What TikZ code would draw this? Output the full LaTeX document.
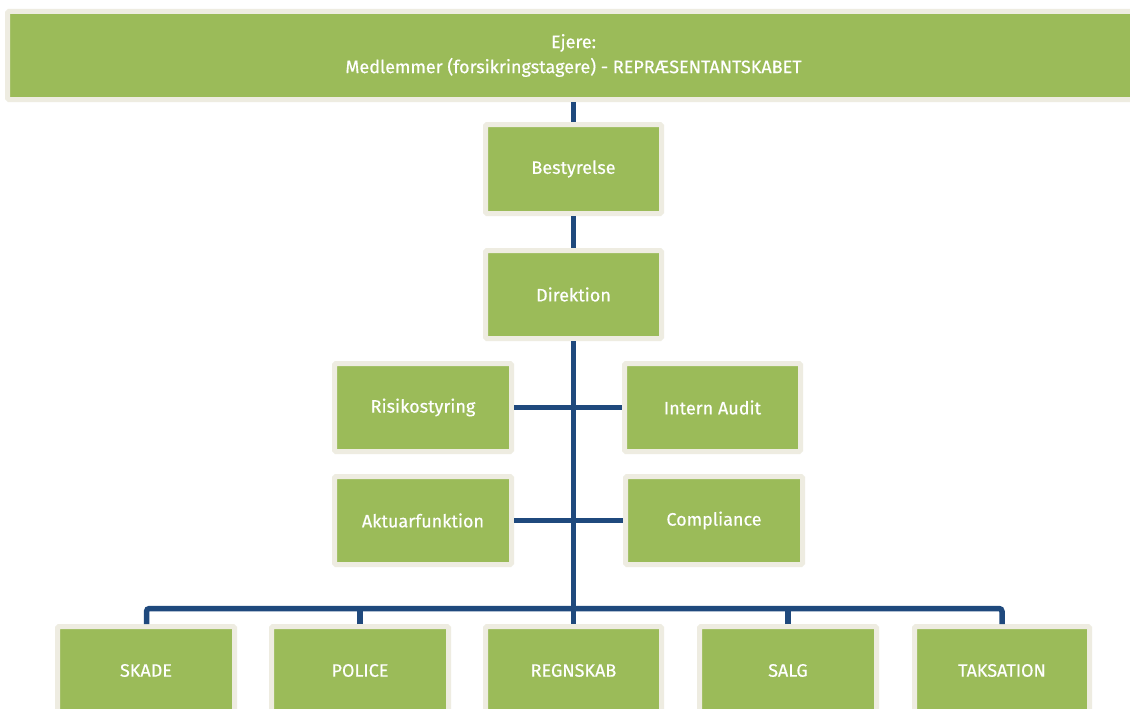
\documentclass[tikz,border=0pt]{standalone}
\usepackage{fontspec}
\setmainfont{Fira Sans}[FakeBold=0.4,AutoFakeBold=0.4]
\definecolor{boxgreen}{HTML}{9BBB59}
\definecolor{boxrim}{HTML}{EEECE1}
\definecolor{linkblue}{HTML}{1F497D}
\begin{document}
\begin{tikzpicture}[x=1pt,y=-1pt,
  orgbox/.style={rectangle, rounded corners=1.5pt, fill=boxgreen, draw=boxrim, line width=5pt,
    minimum width=176pt, minimum height=88pt, inner sep=0pt, text=white, align=center,
    font=\fontsize{18}{25}\selectfont\bfseries},
  link/.style={draw=linkblue, line width=5.5pt}]
\clip (0,0) rectangle (1130,709);
\fill[white] (0,0) rectangle (1130,709);
\node[orgbox, minimum width=1132pt] (top) at (573.5,55.5) {Ejere:\\Medlemmer (forsikringstagere) - REPRÆSENTANTSKABET};
\node[orgbox, minimum height=89pt] (best) at (573.5,169) {Bestyrelse};
\node[orgbox] (dir) at (573.5,294.5) {Direktion};
\node[orgbox, minimum width=177pt] (risk) at (423,407.5) {Risikostyring};
\node[orgbox] (audit) at (712.5,407.5) {Intern Audit};
\node[orgbox, minimum width=177pt] (akt) at (423,520.5) {Aktuarfunktion};
\node[orgbox, minimum width=177pt] (comp) at (714,520.5) {Compliance};
\node[orgbox, minimum width=177pt] (skade) at (146,670.5) {SKADE};
\node[orgbox, minimum width=177pt] (police) at (360,670.5) {POLICE};
\node[orgbox] (regn) at (573.5,670.5) {REGNSKAB};
\node[orgbox, minimum width=177pt] (salg) at (788,670.5) {SALG};
\node[orgbox, minimum width=175pt] (taks) at (1002,670.5) {TAKSATION};
\coordinate (bus) at (573.5,608.5);
\draw[link] (top.south) -- (best.north);
\draw[link] (best.south) -- (dir.north);
\draw[link] (dir.south) -- (regn.north);
\draw[link] (risk.east) -- (audit.west);
\draw[link] (akt.east) -- (comp.west);
\draw[link, rounded corners=3pt] (skade.north -| 146.5,0) |- (bus) -| (taks.north);
\draw[link] (police.north) -- (police.north |- bus);
\draw[link] (salg.north) -- (salg.north |- bus);
\end{tikzpicture}
\end{document}
